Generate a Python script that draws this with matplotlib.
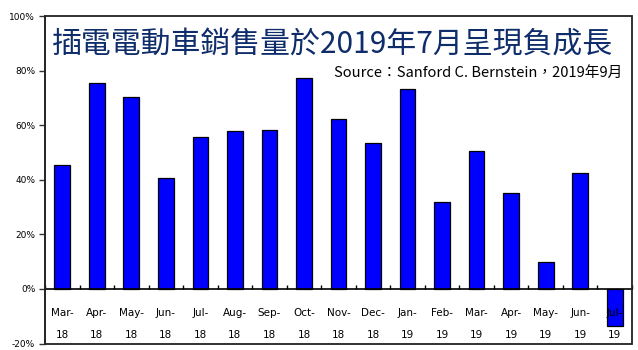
import matplotlib
matplotlib.use('Agg')
import matplotlib.pyplot as plt
from matplotlib.patches import Rectangle
from matplotlib.ticker import FixedLocator, FuncFormatter
import numpy as np

# data
months = ['Mar-\n18', 'Apr-\n18', 'May-\n18', 'Jun-\n18', 'Jul-\n18', 'Aug-\n18',
          'Sep-\n18', 'Oct-\n18', 'Nov-\n18', 'Dec-\n18', 'Jan-\n19', 'Feb-\n19',
          'Mar-\n19', 'Apr-\n19', 'May-\n19', 'Jun-\n19', 'Jul-\n19']
growth = [45.3, 75.4, 70.4, 40.5, 55.5, 57.7, 58.2, 77.3, 62.4, 53.3,
          73.2, 32.0, 50.7, 35.2, 9.7, 42.6, -13.7]
y_ticks = [-20, 0, 20, 40, 60, 80, 100]

title = '插電電動車銷售量於2019年7月呈現負成長'
source = 'Source：Sanford C. Bernstein，2019年9月'

cjk = ['Noto Sans CJK TC', 'DejaVu Sans']

fig = plt.figure(figsize=(6.38, 3.5), dpi=100)
ax = fig.add_axes([45 / 638, 6.5 / 350, 587 / 638, 327.5 / 350])

x = np.arange(len(months))
ax.bar(x, growth, width=0.455, color='#0000FF', edgecolor='black', linewidth=0.9, zorder=2)
ax.set_axisbelow(False)  # labels drawn over the Jul-19 bar like the original

ax.set_xlim(-0.5, len(months) - 0.5)
ax.set_ylim(-20, 100)

# y axis
ax.yaxis.set_major_locator(FixedLocator(y_ticks))
ax.yaxis.set_major_formatter(FuncFormatter(lambda v, p: '%d%%' % v))
ax.tick_params(axis='y', direction='out', length=4, width=1, labelsize=6.5, pad=3,
               colors='#333333', labelcolor='black')

# category axis crosses at 0
ax.spines['bottom'].set_position(('data', 0))
ax.spines['bottom'].set_linewidth(1.2)
ax.spines['left'].set_linewidth(1.2)
ax.spines['left'].set_color('#444444')
for s in ['top', 'right']:
    ax.spines[s].set_visible(False)
ax.set_xticks(x)
ax.set_xticklabels(months)
ax.set_xticks(np.arange(len(months) + 1) - 0.5, minor=True)
ax.tick_params(axis='x', which='major', length=0, pad=14, labelsize=7.5)
ax.tick_params(axis='x', which='minor', direction='in', length=3, width=1)
for lab in ax.get_xticklabels():
    lab.set_linespacing(2.4)

# outer frame of plot area
ax.add_patch(Rectangle((0, 0), 1, 1, transform=ax.transAxes, fill=False,
                       edgecolor='#222222', linewidth=1.3, clip_on=False, zorder=5))

ax.text(7 / 587, 0.915, title, transform=ax.transAxes, family=cjk, fontsize=21.5,
        color='#0F2D6B', ha='left', va='center', zorder=6)
ax.text(577 / 587, 0.827, source, transform=ax.transAxes, family=cjk, fontsize=10.6,
        color='black', ha='right', va='center', zorder=6)

fig.savefig('out.png', dpi=100)
